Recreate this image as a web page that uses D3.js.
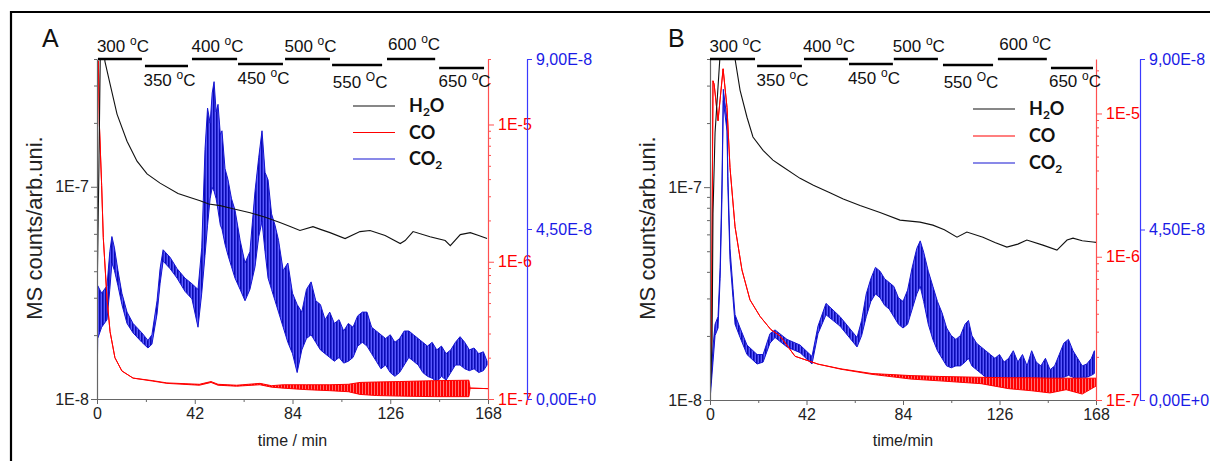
<!DOCTYPE html>
<html>
<head>
<meta charset="utf-8">
<script src="https://cdn.jsdelivr.net/npm/d3@7/dist/d3.min.js"></script>
<style>
  html, body { margin: 0; padding: 0; background: #fff; }
  svg { display: block; }
  text { font-family: "Liberation Sans", Arial, sans-serif; }
</style>
</head>
<body>
<svg id="chart" width="1210" height="461"></svg>
<script>
// ---- data (time in min) ----
const timeTicks = [0, 42, 84, 126, 168];
const timeMinor = [21, 63, 105, 147];
const tempLabels = ['300', '350', '400', '450', '500', '550', '600', '650'];
// temperature program steps, start / end in minutes
const stepStartA = [0.4, 20.6, 40.8, 60.6, 80.8, 101, 124.6, 147];
const stepEndA = [19.3, 39.1, 60.2, 79.9, 100.1, 122.5, 145.3, 166.3];
const stepStartB = [0, 20.5, 40.9, 60.5, 80, 101.4, 125.3, 148.4];
const stepEndB = [19.6, 40, 60, 79.6, 99.2, 123.2, 146.6, 166.7];

// H2O, left axis: [t, value]
const h2oA = [
  [0, 1.2e-8], [0.2, 4e-8], [0.8, 1.2e-7], [1.5, 5e-7], [3.0, 5e-7], [3.4, 3.9e-7], [5.6, 3.05e-7],
  [8.6, 2.2e-7], [12.9, 1.64e-7], [17.2, 1.32e-7], [21.5, 1.15e-7], [27.1, 1.04e-7], [34.8, 9.3e-8],
  [40, 8.9e-8], [44.3, 8.6e-8], [48, 8.3e-8], [52.9, 8.15e-8], [58, 7.9e-8], [65.8, 7.55e-8],
  [72, 7.2e-8], [78.6, 6.78e-8], [83, 6.5e-8], [87.2, 6.22e-8], [92.8, 6.49e-8], [96, 6.3e-8],
  [100.1, 6.08e-8], [106.6, 5.7e-8], [113, 6.15e-8], [117.3, 6.22e-8], [123.8, 5.89e-8],
  [130.3, 5.4e-8], [132.4, 5.58e-8], [135.8, 6.15e-8], [143.1, 5.82e-8], [149.6, 5.58e-8],
  [151.8, 5.28e-8], [156.1, 5.95e-8], [160.4, 6.08e-8], [164, 5.9e-8], [167.6, 5.7e-8]
];
const h2oB = [
  [0.3, 1.2e-8], [0.9, 1.9e-8], [1.3, 7.5e-8], [2.2, 1.8e-7], [4.4, 4.2e-7], [7, 5e-7],
  [10.9, 4.0e-7], [13.1, 2.85e-7], [16.1, 2.13e-7], [18.7, 1.72e-7], [23.1, 1.49e-7],
  [27.4, 1.34e-7], [30.5, 1.27e-7], [39.2, 1.1e-7], [45, 1.02e-7], [52.2, 9.4e-8], [58, 8.8e-8],
  [65.3, 8.2e-8], [74, 7.6e-8], [82.7, 7.0e-8], [91.4, 6.85e-8], [97, 6.63e-8], [102, 6.3e-8],
  [107.5, 5.82e-8], [111.8, 6.15e-8], [118.8, 5.82e-8], [124, 5.5e-8], [129.2, 5.23e-8],
  [134, 5.4e-8], [137.9, 5.64e-8], [144.9, 5.34e-8], [151, 5.06e-8], [155.4, 5.64e-8],
  [158, 5.76e-8], [162, 5.6e-8], [166.7, 5.52e-8], [168, 5.5e-8]
];

// CO, red axis: [t, low, high]
const coA = [
  [0, 1.1e-7, 1.1e-7], [0.2, 2.9e-5, 2.9e-5], [0.6, 2.9e-5, 2.9e-5], [1.0, 1.03e-5, 1.03e-5],
  [2.0, 3.6e-6, 3.6e-6], [2.7, 1.5e-6, 1.5e-6], [4.3, 5.4e-7, 5.4e-7], [5.6, 3.1e-7, 3.1e-7],
  [7.7, 2.0e-7, 2.0e-7], [10.7, 1.6e-7, 1.6e-7], [15.5, 1.42e-7, 1.42e-7], [24, 1.35e-7, 1.36e-7],
  [30, 1.3e-7, 1.31e-7], [44, 1.26e-7, 1.28e-7], [49, 1.32e-7, 1.34e-7], [52, 1.26e-7, 1.28e-7],
  [60, 1.24e-7, 1.26e-7], [70, 1.27e-7, 1.3e-7], [75, 1.22e-7, 1.25e-7], [80, 1.2e-7, 1.27e-7],
  [90, 1.17e-7, 1.27e-7], [100, 1.15e-7, 1.27e-7], [108, 1.13e-7, 1.28e-7], [113, 1.08e-7, 1.32e-7],
  [120, 1.06e-7, 1.33e-7], [130, 1.05e-7, 1.34e-7], [145, 1.04e-7, 1.36e-7],
  [159.8, 1.04e-7, 1.37e-7], [160.3, 1.2e-7, 1.2e-7], [168, 1.19e-7, 1.19e-7]
];
const coB = [
  [0, 1.1e-7, 1.1e-7], [0.6, 2.5e-7, 2.5e-7], [1.3, 1.69e-5, 1.69e-5], [1.8, 1.6e-5, 1.6e-5],
  [3.5, 8.9e-6, 8.9e-6], [5.7, 2.05e-5, 2.05e-5], [7.4, 1.1e-5, 1.1e-5], [8.7, 4.2e-6, 4.2e-6],
  [10.9, 1.62e-6, 1.62e-6], [13.9, 8.1e-7, 8.1e-7], [17.4, 5.0e-7, 5.0e-7], [21.8, 3.83e-7, 3.83e-7],
  [26.5, 3.1e-7, 3.1e-7], [30.5, 2.8e-7, 2.8e-7], [37, 2.02e-7, 2.02e-7], [47, 1.78e-7, 1.78e-7],
  [57, 1.64e-7, 1.65e-7], [70.5, 1.51e-7, 1.53e-7], [87.5, 1.4e-7, 1.48e-7], [100, 1.36e-7, 1.46e-7],
  [118, 1.3e-7, 1.44e-7], [130, 1.2e-7, 1.43e-7], [140, 1.16e-7, 1.43e-7], [148, 1.12e-7, 1.42e-7],
  [155, 1.18e-7, 1.42e-7], [162, 1.1e-7, 1.42e-7], [168, 1.25e-7, 1.42e-7]
];

// CO2, blue axis, in units of 1E-8: [t, low, high]
const co2A = [
  [0, 0, 0.3], [0.3, 1.6, 3.0], [2, 1.9, 2.8], [4.3, 2.1, 3.0], [5.5, 2.9, 3.9], [6.4, 3.6, 4.3],
  [7.5, 3.4, 4.0], [9.0, 3.0, 3.4], [10.7, 2.5, 2.8], [12.9, 2.0, 2.3], [15.5, 1.75, 2.0],
  [19.3, 1.5, 1.75], [21.9, 1.35, 1.55], [23.6, 1.45, 1.7], [25.8, 2.25, 2.6], [27.1, 3.05, 3.45],
  [28.4, 3.65, 3.95], [31.4, 3.45, 3.75], [34.4, 3.2, 3.45], [37.8, 2.85, 3.2], [40.8, 2.65, 3.05],
  [43.4, 1.9, 2.9], [45, 2.8, 4.0], [46.4, 3.8, 6.6], [47.5, 4.6, 7.7], [48.6, 5.3, 7.3],
  [49.5, 5.6, 8.1], [50.3, 5.5, 8.4], [51.2, 5.3, 7.6], [52.0, 5.0, 7.8], [53.0, 4.6, 7.0],
  [53.7, 4.5, 7.1], [55, 4.1, 6.1], [56.3, 3.8, 5.8], [57.8, 3.5, 5.3], [59.3, 3.2, 5.0],
  [61.5, 2.9, 4.2], [63.6, 2.6, 3.6], [65.7, 2.9, 3.9], [67.9, 3.5, 5.5], [69.5, 4.3, 6.4],
  [70.9, 4.7, 7.1], [72.2, 3.9, 6.0], [73.5, 3.2, 5.8], [75, 2.9, 4.9], [76.5, 2.6, 4.6],
  [78, 2.3, 4.2], [80, 1.9, 3.4], [82, 1.5, 3.6], [84, 1.2, 2.8], [86, 0.7, 2.5], [88, 1.3, 2.3],
  [90, 1.6, 2.9], [92, 1.7, 3.1], [94, 1.5, 2.6], [96, 1.3, 2.5], [98, 1.2, 2.1], [100, 1.1, 2.3],
  [102, 1.0, 2.0], [104, 1.1, 2.1], [106, 0.95, 1.8], [108, 1.0, 2.0], [110, 1.1, 1.9],
  [112, 1.4, 2.2], [114, 1.5, 2.3], [116, 1.4, 2.3], [118, 1.2, 1.9], [120, 1.0, 1.8],
  [122, 0.8, 1.7], [124, 0.9, 1.6], [126, 0.7, 1.7], [128, 0.6, 1.5], [130, 0.7, 1.6],
  [132, 0.9, 1.8], [134, 1.1, 1.8], [136, 1.0, 1.7], [138, 0.9, 1.6], [140, 0.7, 1.5],
  [142, 0.6, 1.4], [144, 0.55, 1.5], [146, 0.45, 1.3], [148, 0.6, 1.4], [150, 0.5, 1.2],
  [152, 0.7, 1.3], [154, 0.9, 1.5], [156, 0.9, 1.65], [158, 0.8, 1.5], [160, 0.75, 1.3],
  [162, 0.8, 1.35], [164, 0.7, 1.2], [166, 0.75, 1.25], [167.6, 0.9, 1.0]
];
const co2B = [
  [0, 0, 0.1], [1.3, 1.0, 1.4], [2.2, 1.7, 2.0], [3.5, 1.9, 2.2], [4.4, 3.2, 3.5], [5.2, 5.3, 5.7],
  [5.8, 7.9, 8.2], [7.4, 7.1, 7.4], [7.8, 5.6, 5.9], [8.7, 3.7, 4.0], [10, 2.7, 2.95],
  [10.9, 2.0, 2.25], [13.1, 1.65, 1.9], [16.1, 1.2, 1.45], [20.5, 0.95, 1.2], [23.1, 1.0, 1.2],
  [26.1, 1.5, 1.75], [28.3, 1.65, 1.85], [33.5, 1.4, 1.6], [39.2, 1.25, 1.45], [44.4, 0.95, 1.15],
  [47, 1.75, 1.95], [50.5, 2.25, 2.55], [56.6, 1.95, 2.2], [64, 1.4, 1.65], [66, 1.7, 2.1],
  [68, 2.2, 2.8], [70, 2.6, 3.2], [72, 2.8, 3.5], [74, 2.7, 3.4], [76, 2.5, 3.2], [78, 2.4, 3.1],
  [80, 2.2, 3.0], [82, 2.0, 2.7], [84, 1.9, 2.6], [86, 2.0, 2.9], [88, 2.4, 3.5], [90, 2.8, 4.0],
  [91.5, 3.0, 4.2], [93, 2.6, 3.9], [95, 2.0, 3.4], [97, 1.6, 3.0], [99, 1.3, 2.6], [101, 1.1, 2.3],
  [103, 0.9, 1.9], [105, 0.85, 1.7], [107, 0.9, 1.6], [109, 0.9, 1.7], [111, 1.0, 2.0],
  [112.5, 1.1, 2.1], [114, 0.9, 1.7], [116, 0.8, 1.5], [118, 0.7, 1.4], [120, 0.6, 1.3],
  [122, 0.55, 1.2], [124, 0.5, 1.1], [126, 0.5, 1.2], [128, 0.5, 1.0], [130, 0.5, 1.1],
  [132, 0.5, 1.3], [134, 0.5, 1.0], [136, 0.5, 1.2], [138, 0.5, 0.9], [140, 0.5, 1.3],
  [142, 0.5, 1.0], [144, 0.5, 0.9], [146, 0.5, 1.1], [148, 0.5, 0.8], [150, 0.5, 0.9],
  [152, 0.55, 1.2], [154, 0.6, 1.5], [156, 0.65, 1.6], [158, 0.6, 1.3], [160, 0.55, 1.1],
  [162, 0.6, 0.9], [164, 0.6, 0.95], [166, 0.65, 1.1], [167.3, 0.7, 1.3]
];

const leftTicks = [1e-8, 1e-7];
const redTicks = [1e-7, 1e-6, 1e-5];
const blueTicks = [0, 4.5, 9];
const legendNames = ['H2O', 'CO', 'CO2'];

const BLACK = '#111', RED = '#ff0000', BLUE = '#1414d2';

const svg = d3.select('#chart');

// stripe patterns imitating the dense scan noise of the traces
const defs = svg.append('defs');
const pat = defs.append('pattern').attr('id', 'co2noise')
  .attr('patternUnits', 'userSpaceOnUse').attr('width', 3).attr('height', 6);
pat.append('rect').attr('width', 3).attr('height', 6).attr('fill', '#5a5aff');
pat.append('rect').attr('width', 1.6).attr('height', 6).attr('fill', '#0a0ab4');
const patR = defs.append('pattern').attr('id', 'conoise')
  .attr('patternUnits', 'userSpaceOnUse').attr('width', 3).attr('height', 6);
patR.append('rect').attr('width', 3).attr('height', 6).attr('fill', '#ff7070');
patR.append('rect').attr('width', 2).attr('height', 6).attr('fill', '#ff0000');

// outer frame
svg.append('path')
  .attr('d', 'M11,461V12H1210')
  .attr('fill', 'none').attr('stroke', '#000').attr('stroke-width', 2.2);

const panels = [
  { id: 'A', x0: 97, x1: 488, yTop: 59, yBot: 399, blueX: 527, letterX: 42, titleX: 42,
    xTitle: 'time / min', leftTop: 4e-7, redTop: 3e-5,
    h2o: h2oA, co: coA, co2: co2A, stepStart: stepStartA, stepEnd: stepEndA,
    legX: 353, legY: 106, legStep: 26.5 },
  { id: 'B', x0: 710, x1: 1096, yTop: 59, yBot: 400, blueX: 1140, letterX: 668, titleX: 655,
    xTitle: 'time/min', leftTop: 4e-7, redTop: 2.4e-5,
    h2o: h2oB, co: coB, co2: co2B, stepStart: stepStartB, stepEnd: stepEndB,
    legX: 973, legY: 109, legStep: 27 }
];

const logFmt = d => '1E' + Math.round(Math.log10(d));
const blueFmt = d => d === 0 ? '0,00E+0' : d.toFixed(2).replace('.', ',') + 'E-8';

function minorLog(lo, hi) {
  const out = [];
  for (let e = -9; e <= -4; e++) {
    for (let m = 2; m <= 9; m++) {
      const v = m * Math.pow(10, e);
      if (v > lo * 1.0001 && v < hi * 1.0001) out.push(v);
    }
  }
  return out;
}

function styleAxis(g, color, textColor) {
  g.select('.domain').attr('stroke', color).attr('stroke-width', 1.2);
  g.selectAll('.tick line').attr('stroke', color).attr('stroke-width', 1);
  g.selectAll('.tick text').attr('fill', textColor)
    .style('font-size', '16px').style('font-family', '"Liberation Sans", Arial, sans-serif');
}

panels.forEach(p => {
  const x = d3.scaleLinear().domain([0, 168]).range([p.x0, p.x1]);
  const yL = d3.scaleLog().domain([1e-8, p.leftTop]).range([p.yBot, p.yTop]);
  const yR = d3.scaleLog().domain([1e-7, p.redTop]).range([p.yBot, p.yTop]);
  const yB = d3.scaleLinear().domain([0, 9]).range([p.yBot, p.yTop]);

  svg.append('clipPath').attr('id', 'clip' + p.id)
    .append('rect').attr('x', p.x0).attr('y', p.yTop)
    .attr('width', p.x1 - p.x0 + 1).attr('height', p.yBot - p.yTop);

  const plot = svg.append('g').attr('clip-path', `url(#clip${p.id})`);

  // CO2 (blue axis)
  const areaB = d3.area().x(d => x(d[0])).y0(d => yB(d[1])).y1(d => yB(d[2]));
  plot.append('path').datum(p.co2).attr('d', areaB)
    .attr('fill', 'url(#co2noise)')
    .attr('stroke', BLUE).attr('stroke-width', 1).attr('stroke-linejoin', 'round');

  // CO (red axis)
  const areaR = d3.area().x(d => x(d[0])).y0(d => yR(d[1])).y1(d => yR(d[2]));
  plot.append('path').datum(p.co).attr('d', areaR)
    .attr('fill', 'url(#conoise)').attr('stroke', RED).attr('stroke-width', 1)
    .attr('stroke-linejoin', 'round');

  // H2O (left axis)
  const lineL = d3.line().x(d => x(d[0])).y(d => yL(d[1]));
  plot.append('path').datum(p.h2o).attr('d', lineL)
    .attr('fill', 'none').attr('stroke', BLACK).attr('stroke-width', 1.1);

  // bottom axis
  const gx = svg.append('g').attr('transform', `translate(0,${p.yBot})`)
    .call(d3.axisBottom(x).tickValues(timeTicks).tickSize(5).tickPadding(4).tickSizeOuter(0));
  styleAxis(gx, '#666', '#222');
  const gxm = svg.append('g').attr('transform', `translate(0,${p.yBot})`)
    .call(d3.axisBottom(x).tickValues(timeMinor).tickSize(3).tickFormat(''));
  gxm.select('.domain').remove();
  gxm.selectAll('.tick line').attr('stroke', '#666');

  // left axis
  const gl = svg.append('g').attr('transform', `translate(${p.x0},0)`)
    .call(d3.axisLeft(yL).tickValues(leftTicks).tickFormat(logFmt).tickSize(6).tickPadding(2).tickSizeOuter(0));
  styleAxis(gl, '#666', '#222');
  const glm = svg.append('g').attr('transform', `translate(${p.x0},0)`)
    .call(d3.axisLeft(yL).tickValues(minorLog(1e-8, p.leftTop)).tickFormat('').tickSize(3));
  glm.select('.domain').remove();
  glm.selectAll('.tick line').attr('stroke', '#666');

  // red axis
  const gr = svg.append('g').attr('transform', `translate(${p.x1},0)`)
    .call(d3.axisRight(yR).tickValues(redTicks).tickFormat(logFmt).tickSize(6).tickPadding(4).tickSizeOuter(0));
  styleAxis(gr, '#ff5050', RED);
  const grm = svg.append('g').attr('transform', `translate(${p.x1},0)`)
    .call(d3.axisRight(yR).tickValues(minorLog(1e-7, p.redTop)).tickFormat('').tickSize(3));
  grm.select('.domain').remove();
  grm.selectAll('.tick line').attr('stroke', '#ff5050');

  // blue axis
  const gb = svg.append('g').attr('transform', `translate(${p.blueX},0)`)
    .call(d3.axisRight(yB).tickValues(blueTicks).tickFormat(blueFmt).tickSize(5).tickPadding(4).tickSizeOuter(0));
  styleAxis(gb, '#3a3aff', '#1a1ae6');

  // axis titles
  svg.append('text')
    .attr('transform', `translate(${p.titleX},228) rotate(-90)`)
    .attr('text-anchor', 'middle').attr('fill', '#222')
    .style('font-size', '22px').text('MS counts/arb.uni.');
  svg.append('text')
    .attr('x', (p.x0 + p.x1) / 2).attr('y', 446)
    .attr('text-anchor', 'middle').attr('fill', '#222')
    .style('font-size', '16px').text(p.xTitle);

  // panel letter
  svg.append('text').attr('x', p.letterX).attr('y', 47)
    .attr('fill', '#111').style('font-size', '25px').text(p.id);

  // temperature programme
  const stepY = [59, 66, 59, 64, 59, 65, 59, 68];
  const labelY = [52, 86, 52, 84, 52, 88, 50, 87];
  tempLabels.forEach((lab, i) => {
    const xs = x(p.stepStart[i]), xe = x(p.stepEnd[i]);
    svg.append('line').attr('x1', xs).attr('x2', xe)
      .attr('y1', stepY[i]).attr('y2', stepY[i])
      .attr('stroke', '#000').attr('stroke-width', 2.5);
    const t = svg.append('text').attr('x', (xs + xe) / 2 + 3).attr('y', labelY[i])
      .attr('text-anchor', 'middle').attr('fill', '#111').style('font-size', '17px');
    t.append('tspan').text(lab + ' ');
    t.append('tspan').attr('dy', -7).style('font-size', '12px').text(lab === '550' ? 'O' : 'o');
    t.append('tspan').attr('dy', 7).text('C');
  });

  // legend
  const legColors = [BLACK, RED, BLUE];
  legendNames.forEach((name, i) => {
    const ly = p.legY + i * p.legStep;
    svg.append('line').attr('x1', p.legX).attr('x2', p.legX + 42)
      .attr('y1', ly).attr('y2', ly).attr('stroke', legColors[i]).attr('stroke-width', 1.2);
    const t = svg.append('text').attr('x', p.legX + 56).attr('y', ly + 6)
      .attr('fill', '#111').style('font-family', 'Lato, "Open Sans", sans-serif')
      .style('font-weight', 700).style('font-size', '18px');
    if (name === 'H2O') {
      t.append('tspan').text('H');
      t.append('tspan').attr('dy', 4).style('font-size', '12px').text('2');
      t.append('tspan').attr('dy', -4).text('O');
    } else if (name === 'CO2') {
      t.append('tspan').text('CO');
      t.append('tspan').attr('dy', 4).style('font-size', '12px').text('2');
    } else {
      t.text(name);
    }
  });
});
</script>
</body>
</html>
